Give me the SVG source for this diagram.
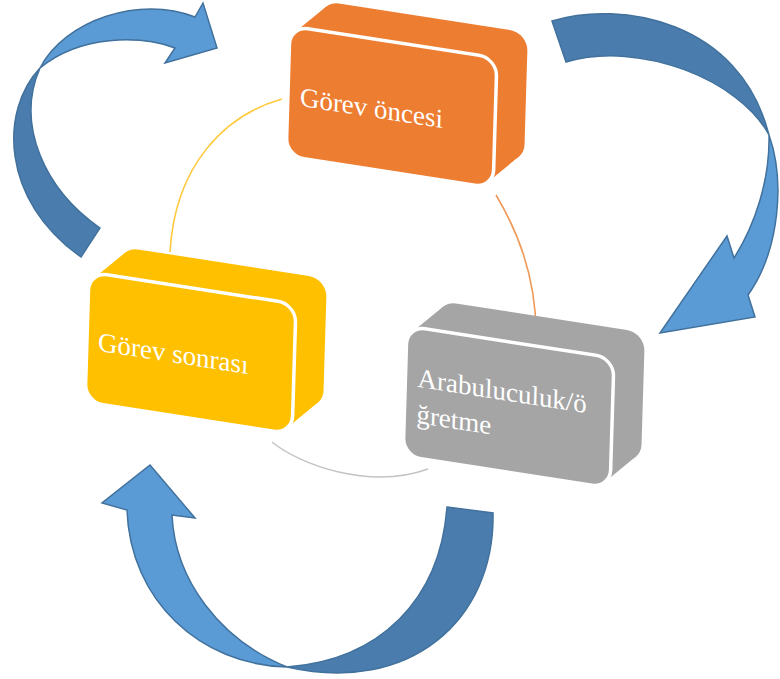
<svg xmlns="http://www.w3.org/2000/svg" width="780" height="679" viewBox="0 0 780 679">
  <defs>
    <style>
      .arrow-dark { fill: #4A7DAE; stroke: #41719C; stroke-width: 1.5; stroke-linejoin: miter; }
      .arrow-light { fill: #5B9BD5; stroke: #41719C; stroke-width: 1.5; stroke-linejoin: miter; }
      .link { fill: none; stroke-width: 1.6; }
      .face { stroke: #FFFFFF; stroke-width: 3.5; }
      .label { font-family: "Liberation Serif", "Times New Roman", serif; font-size: 27px; fill: #FFFFFF; }
    </style>
    <!-- box body: depth extrusion toward upper right, drawn in local coordinates -->
    <g id="box-body">
      <rect x="30" y="-30" width="207" height="130" rx="18" ry="18"/>
      <polygon points="5.3,5.3 35.3,-24.7 231.7,94.7 201.7,124.7"/>
    </g>
  </defs>

  <rect width="780" height="679" fill="#FFFFFF"/>

  <!-- thin cycle links behind the boxes -->
  <g id="links">
    <path class="link" stroke="#FFC93C" d="M 282,99 C 225,115 175,165 170,252"/>
    <path class="link" stroke="#F09A5A" d="M 496,195 C 520,235 536,280 536,333"/>
    <path class="link" stroke="#C4C4C4" d="M 272,442 C 300,465 370,490 428,469"/>
  </g>

  <!-- curved ribbon arrows -->
  <g id="connectors">
    <g id="arrow-top-left">
      <path class="arrow-dark" d="M 81,257 L 100,228 C 45,190 15,125 40,68 C 0,110 0,200 81,257 Z"/>
      <path class="arrow-light" d="M 40,68 C 65,20 140,-5 195,17 L 203,3 L 217,48 L 165,63 L 175,48 C 140,35 80,35 40,68 Z"/>
    </g>
    <g id="arrow-right">
      <path class="arrow-dark" d="M 566,62 L 552,21 C 620,0 740,20 769,135 C 740,80 640,40 566,62 Z"/>
      <path class="arrow-light" d="M 769,135 C 785,180 780,250 748,295 L 755,317 L 660,333 L 727,236 L 734,258 C 755,225 770,180 769,135 Z"/>
    </g>
    <g id="arrow-bottom">
      <path class="arrow-dark" d="M 447,507 L 493,513 C 495,620 410,695 287,667 C 380,660 440,600 447,507 Z"/>
      <path class="arrow-light" d="M 287,667 C 200,665 130,600 127,510 L 102,503 L 150,465 L 195,518 L 172,515 C 175,580 220,640 287,667 Z"/>
    </g>
  </g>

  <!-- Görev öncesi -->
  <g id="node-gorev-oncesi" transform="matrix(1,0.155,-0.03,1,290,26)">
    <use href="#box-body" fill="#ED7D31"/>
    <rect class="face" x="0" y="0" width="207" height="130" rx="18" ry="18" fill="#ED7D31"/>
    <text class="label" x="12" y="78">Görev öncesi</text>
  </g>

  <!-- Görev sonrası -->
  <g id="node-gorev-sonrasi" transform="matrix(1,0.155,-0.03,1,89,272)">
    <use href="#box-body" fill="#FFC000"/>
    <rect class="face" x="0" y="0" width="207" height="130" rx="18" ry="18" fill="#FFC000"/>
    <text class="label" x="11" y="77">Görev sonrası</text>
  </g>

  <!-- Arabuluculuk/öğretme -->
  <g id="node-arabuluculuk" transform="matrix(1,0.155,-0.03,1,407,326)">
    <use href="#box-body" fill="#A5A5A5"/>
    <rect class="face" x="0" y="0" width="207" height="130" rx="18" ry="18" fill="#A5A5A5"/>
    <text class="label" x="12" y="59">Arabuluculuk/ö</text>
    <text class="label" x="12" y="95">ğretme</text>
  </g>
</svg>
